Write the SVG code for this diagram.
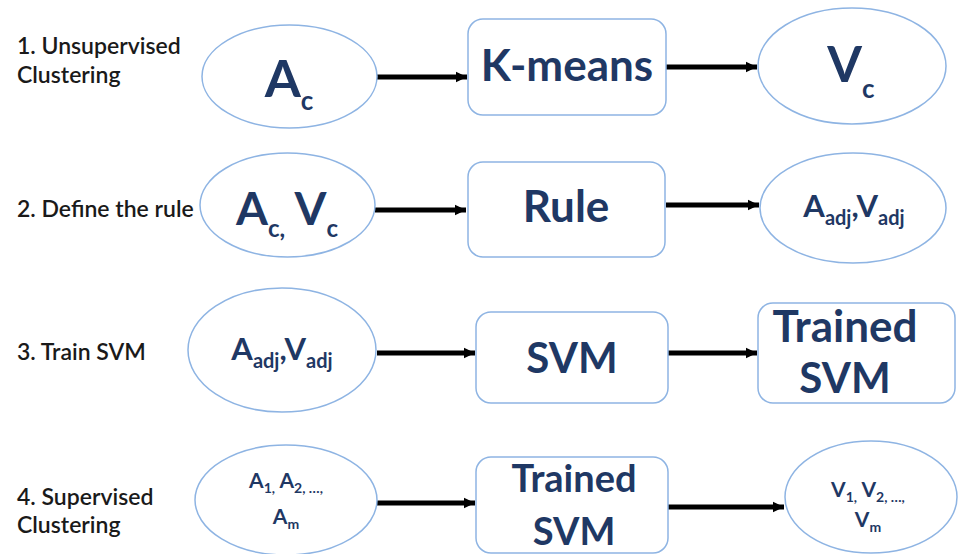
<svg xmlns="http://www.w3.org/2000/svg" width="958" height="554" viewBox="0 0 958 554">
<defs>
<style>
.lbl{font-family:Lato,"Open Sans","Liberation Sans",sans-serif;font-size:23px;font-weight:600;fill:#1a1a1a}
.nt{font-family:Lato,"Open Sans","Liberation Sans",sans-serif;font-weight:700;fill:#1F3864;text-anchor:middle}
.el{fill:#fff;stroke:#8EB4E3;stroke-width:1.5}
.bx{fill:#fff;stroke:#8EB4E3;stroke-width:1.5}
.ar{stroke:#000;stroke-width:5;fill:none;marker-end:url(#ah)}
</style>
<marker id="ah" markerWidth="3" markerHeight="3" refX="2.2" refY="1.5" orient="auto" markerUnits="strokeWidth">
<path d="M0,0.45 L2.2,1.5 L0,2.55 Z" fill="#000"/>
</marker>
</defs>
<rect width="958" height="554" fill="#fff"/>

<g id="labels">
<text class="lbl" x="17" y="54">1. Unsupervised</text>
<text class="lbl" x="17" y="83">Clustering</text>
<text class="lbl" x="17" y="217">2. Define the rule</text>
<text class="lbl" x="17" y="360">3. Train SVM</text>
<text class="lbl" x="17" y="505">4. Supervised</text>
<text class="lbl" x="17" y="533">Clustering</text>
</g>

<g id="connectors">
<line class="ar" x1="377" y1="77" x2="467" y2="77"/>
<line class="ar" x1="666" y1="67" x2="757" y2="67"/>
<line class="ar" x1="375" y1="210" x2="466" y2="210"/>
<line class="ar" x1="666" y1="205" x2="759" y2="205"/>
<line class="ar" x1="377" y1="353" x2="475" y2="353"/>
<line class="ar" x1="668" y1="353" x2="757" y2="353"/>
<line class="ar" x1="377" y1="503" x2="475" y2="503"/>
<line class="ar" x1="668" y1="507" x2="784" y2="507"/>
</g>

<g id="n-ac">
<ellipse class="el" cx="289.5" cy="76.5" rx="87.5" ry="51.5"/>
<text class="nt" x="289" y="97"><tspan font-size="52">A</tspan><tspan font-size="26" dy="13">c</tspan></text>
</g>
<g id="n-kmeans">
<rect class="bx" x="468" y="19" width="198" height="96" rx="15"/>
<text class="nt" x="567" y="81" font-size="44">K-means</text>
</g>
<g id="n-vc">
<ellipse class="el" cx="852" cy="66" rx="94" ry="58"/>
<text class="nt" x="851" y="82"><tspan font-size="50">V</tspan><tspan font-size="26" dy="16">c</tspan></text>
</g>

<g id="n-acvc">
<ellipse class="el" cx="287.5" cy="205" rx="87.5" ry="52"/>
<text class="nt" x="287" y="225"><tspan font-size="46">A</tspan><tspan font-size="24" dy="12">c,</tspan><tspan font-size="46" dy="-12"> V</tspan><tspan font-size="24" dy="12">c</tspan></text>
</g>
<g id="n-rule">
<rect class="bx" x="468" y="162" width="197" height="95" rx="15"/>
<text class="nt" x="566" y="222" font-size="44">Rule</text>
</g>
<g id="n-adj1">
<ellipse class="el" cx="853" cy="208" rx="93" ry="55"/>
<text class="nt" x="854" y="217"><tspan font-size="31">A</tspan><tspan font-size="20" dy="8">adj</tspan><tspan font-size="31" dy="-8">,V</tspan><tspan font-size="20" dy="8">adj</tspan></text>
</g>

<g id="n-adj2">
<ellipse class="el" cx="282" cy="350" rx="94" ry="62"/>
<text class="nt" x="282" y="360"><tspan font-size="31">A</tspan><tspan font-size="20" dy="8">adj</tspan><tspan font-size="31" dy="-8">,V</tspan><tspan font-size="20" dy="8">adj</tspan></text>
</g>
<g id="n-svm">
<rect class="bx" x="476" y="312" width="192" height="91" rx="15"/>
<text class="nt" x="572" y="373" font-size="42">SVM</text>
</g>
<g id="n-trained1">
<rect class="bx" x="758" y="303" width="197" height="100" rx="15"/>
<text class="nt" x="845" y="342" font-size="44">Trained</text>
<text class="nt" x="845" y="393" font-size="42">SVM</text>
</g>

<g id="n-a1am">
<ellipse class="el" cx="286" cy="500" rx="91" ry="55"/>
<text class="nt" x="286" y="488"><tspan font-size="21">A</tspan><tspan font-size="14" dy="5">1,</tspan><tspan font-size="21" dy="-5"> A</tspan><tspan font-size="14" dy="5">2, …,</tspan></text>
<text class="nt" x="286" y="524"><tspan font-size="21">A</tspan><tspan font-size="14" dy="5">m</tspan></text>
</g>
<g id="n-trained2">
<rect class="bx" x="476" y="457" width="192" height="96" rx="15"/>
<text class="nt" x="574" y="492" font-size="38">Trained</text>
<text class="nt" x="574" y="545" font-size="38">SVM</text>
</g>
<g id="n-v1vm">
<ellipse class="el" cx="871" cy="497" rx="86" ry="56"/>
<text class="nt" x="868" y="497"><tspan font-size="21">V</tspan><tspan font-size="14" dy="5">1,</tspan><tspan font-size="21" dy="-5"> V</tspan><tspan font-size="14" dy="5">2, …,</tspan></text>
<text class="nt" x="868" y="527"><tspan font-size="21">V</tspan><tspan font-size="14" dy="5">m</tspan></text>
</g>
</svg>
